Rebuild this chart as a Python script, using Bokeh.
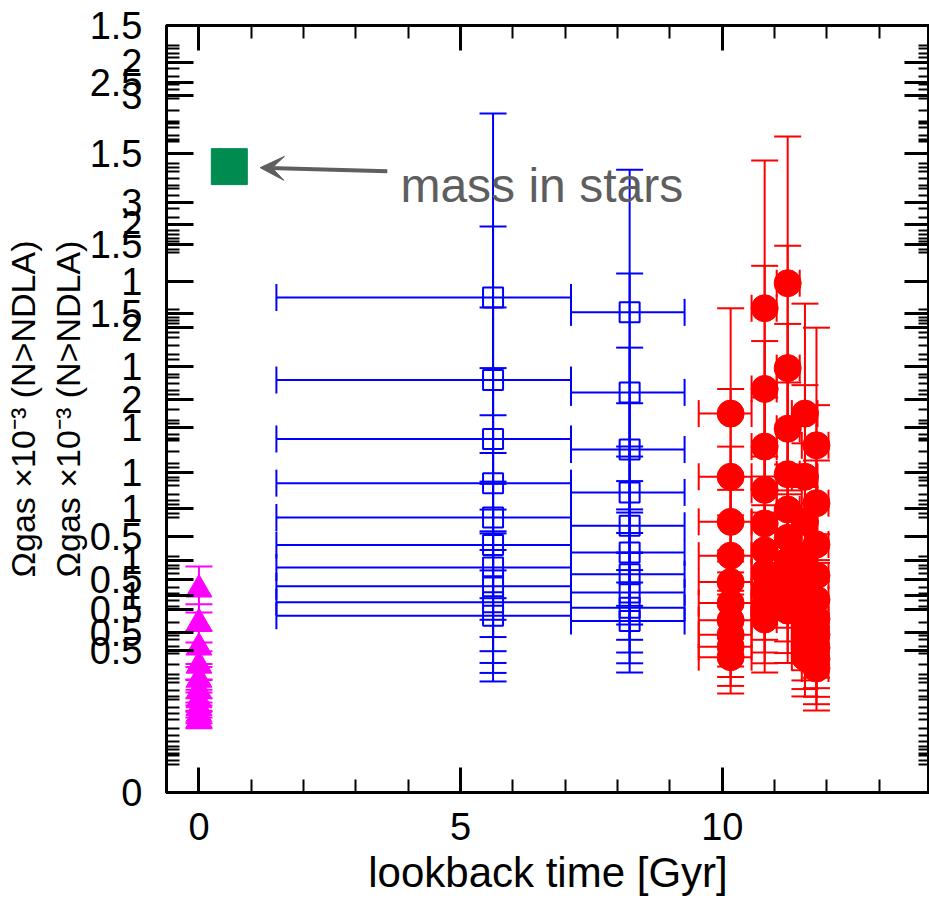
import numpy as np
from bokeh.plotting import figure
from bokeh.models import (Range1d, LinearAxis, FixedTicker, ColumnDataSource,
                          Whisker, TeeHead, Arrow, VeeHead)
from bokeh.core.properties import value
from bokeh.embed import file_html
from bokeh.resources import INLINE

# ---------------- data ----------------
# The picture is an overlay of animation frames: same data, growing y axis
frame_ymax = [1.5, 1.8, 2.1, 2.4, 2.7, 3.0, 3.3, 3.6, 3.9, 4.2]
frame_major_step = [0.5, 0.5, 0.5, 0.5, 0.5, 1.0, 1.0, 1.0, 1.0, 1.0]
frame_minor_step = [0.1, 0.1, 0.1, 0.1, 0.1, 0.2, 0.2, 0.2, 0.2, 0.2]

x_ticks_major = [0, 5, 10]
x_ticks_minor = [1, 2, 3, 4, 6, 7, 8, 9, 11, 12, 13]

# local measurement (magenta triangle)
local_t = [0.0]
local_omega = [0.397]
local_omega_lo = [0.352]
local_omega_hi = [0.442]

# intermediate redshift (blue open squares)
mid_t = [5.62, 8.23]
mid_t_lo = [1.48, 7.11]
mid_t_hi = [7.11, 9.28]
mid_omega = [0.968, 0.939]
mid_omega_lo = [0.608, 0.657]
mid_omega_hi = [1.328, 1.218]

# high redshift DLAs (red circles)
hi_t = [10.16, 10.81, 11.25, 11.58, 11.80]
hi_t_lo = [9.55, 10.56, 11.04, 11.33, 11.52]
hi_t_hi = [10.56, 11.04, 11.48, 11.82, 12.03]
hi_omega = [0.741, 0.947, 0.996, 0.741, 0.679]
hi_omega_lo = [0.542, 0.657, 0.709, 0.526, 0.449]
hi_omega_hi = [0.947, 1.236, 1.283, 0.956, 0.909]

# "mass in stars" annotation
stars_t = [0.58]
stars_omega = [1.224]
stars_text = ["mass in stars"]
stars_text_t = [3.85]
stars_text_omega = [1.187]
arrow_tail = [3.60, 1.215]
arrow_tip = [1.17, 1.222]

x_label = "lookback time [Gyr]"
y_label = "\u03a9gas \u00d710\u207b\u00b3 (N>NDLA)"

# ---------------- figure ----------------
FONT = "Liberation Sans"
p = figure(width=929, height=903, x_range=Range1d(-0.62, 13.96),
           y_range=Range1d(0, frame_ymax[0]), output_backend="svg",
           toolbar_location=None, min_border_left=164, min_border_right=0,
           min_border_top=25, min_border_bottom=111)
p.xgrid.visible = False
p.ygrid.visible = False
p.outline_line_color = "black"
p.outline_line_width = 3
p.background_fill_color = "white"
p.border_fill_color = "white"


def steps(step, top):
    n = int(np.floor(top / step + 1e-9))
    return [round(i * step, 6) for i in range(n + 1)]


major_pos, overrides, minor_pos = [], {}, []
for ymax, st, ms in zip(frame_ymax, frame_major_step, frame_minor_step):
    scale = frame_ymax[0] / ymax
    for t in steps(st, ymax):
        pos = round(t * scale, 6)
        if pos not in overrides:
            overrides[pos] = f"{t:g}"
            major_pos.append(pos)
    for t in steps(ms, ymax):
        minor_pos.append(round(t * scale, 6))

yticker = FixedTicker(ticks=major_pos, minor_ticks=minor_pos)
xticker = FixedTicker(ticks=x_ticks_major, minor_ticks=x_ticks_minor)


def style_axis(ax, labels=True):
    ax.axis_line_width = 3
    ax.axis_line_color = "black"
    ax.major_tick_line_width = 3
    ax.minor_tick_line_width = 2
    ax.major_tick_out = 0
    ax.minor_tick_out = 0
    ax.major_label_text_font = FONT
    ax.major_label_text_color = "black"
    ax.axis_label_text_font = FONT
    ax.axis_label_text_font_style = "normal"
    ax.axis_label_text_color = "black"
    if not labels:
        ax.major_label_text_font_size = "1px"
        ax.major_label_text_color = None
        ax.major_label_standoff = 0


# left (primary)
ya = p.yaxis[0]
ya.ticker = yticker
style_axis(ya)
ya.major_tick_in = 27
ya.minor_tick_in = 13
ya.major_label_overrides = overrides
ya.major_label_text_font_size = "38px"
ya.major_label_standoff = 24
ya.axis_label = y_label
ya.axis_label_text_font_size = "34px"
ya.axis_label_standoff = 0

# second copy of the y title (from the other frame)
ya2 = LinearAxis(ticker=FixedTicker(ticks=[]), axis_label=y_label)
style_axis(ya2, labels=False)
ya2.axis_line_color = None
ya2.major_tick_line_color = None
ya2.minor_tick_line_color = None
ya2.axis_label_text_font_size = "34px"
ya2.axis_label_standoff = 4
p.add_layout(ya2, "left")

# right ticks
yr = LinearAxis(ticker=yticker)
style_axis(yr, labels=False)
yr.major_tick_in = 25
yr.minor_tick_in = 11
p.add_layout(yr, "right")

# bottom
xa = p.xaxis[0]
xa.ticker = xticker
style_axis(xa)
xa.major_tick_in = 25
xa.minor_tick_in = 13
xa.major_label_text_font_size = "38px"
xa.major_label_standoff = 20
xa.axis_label = x_label
xa.axis_label_text_font_size = "42px"
xa.axis_label_standoff = 6

# top ticks
xt = LinearAxis(ticker=xticker)
style_axis(xt, labels=False)
xt.major_tick_in = 25
xt.minor_tick_in = 13
p.add_layout(xt, "above")

# ---------------- frames ----------------
local_src = ColumnDataSource(dict(x=local_t, y=local_omega, lo=local_omega_lo,
                                  hi=local_omega_hi))
mid_src = ColumnDataSource(dict(x=mid_t, y=mid_omega, lo=mid_omega_lo, hi=mid_omega_hi,
                                xlo=mid_t_lo, xhi=mid_t_hi))
hi_src = ColumnDataSource(dict(x=hi_t, y=hi_omega, lo=hi_omega_lo, hi=hi_omega_hi,
                               xlo=hi_t_lo, xhi=hi_t_hi))

CAP = 27


def tee(color):
    return TeeHead(size=CAP, line_color=color, line_width=2)


def vwhisk(src, color, rn):
    return Whisker(source=src, base="x", lower="lo", upper="hi", dimension="height",
                   line_color=color, line_width=2, upper_head=tee(color),
                   lower_head=tee(color), y_range_name=rn)


def hwhisk(src, color, rn):
    return Whisker(source=src, base="y", lower="xlo", upper="xhi", dimension="width",
                   line_color=color, line_width=2, upper_head=tee(color),
                   lower_head=tee(color), y_range_name=rn)


extra = {}
names = []
for k, ymax in enumerate(frame_ymax):
    if k == 0:
        names.append("default")
    else:
        nm = f"frame{k}"
        extra[nm] = Range1d(0, ymax)
        names.append(nm)
p.extra_y_ranges = extra

for rn in names:
    p.add_layout(vwhisk(local_src, "#ff00ff", rn))
    p.add_layout(vwhisk(mid_src, "#0000ff", rn))
    p.add_layout(hwhisk(mid_src, "#0000ff", rn))
    p.add_layout(vwhisk(hi_src, "#ff0000", rn))
    p.add_layout(hwhisk(hi_src, "#ff0000", rn))

for rn in names:
    p.scatter(x="x", y="y", source=local_src, marker="triangle", size=26,
              fill_color="#ff00ff", line_color="#ff00ff", y_range_name=rn)
    p.scatter(x="x", y="y", source=mid_src, marker="square", size=20,
              fill_color=None, line_color="#0000ff", line_width=2, y_range_name=rn)
    p.scatter(x="x", y="y", source=hi_src, marker="circle", size=27,
              fill_color="#ff0000", line_color="#ff0000", y_range_name=rn)

# mass in stars
p.scatter(x=stars_t, y=stars_omega, marker="square", size=36,
          fill_color="#008c50", line_color="#008c50")
p.add_layout(Arrow(end=VeeHead(size=24, fill_color="#5f5f5f", line_color="#5f5f5f"),
                   x_start=arrow_tail[0], y_start=arrow_tail[1],
                   x_end=arrow_tip[0], y_end=arrow_tip[1],
                   line_color="#5f5f5f", line_width=4))
p.text(x=stars_text_t, y=stars_text_omega, text=stars_text, text_font=value(FONT),
       text_font_size="48px", text_color="#5e5e5e", text_baseline="alphabetic",
       text_align="left")

open("out.html", "w").write(file_html(p, INLINE))
